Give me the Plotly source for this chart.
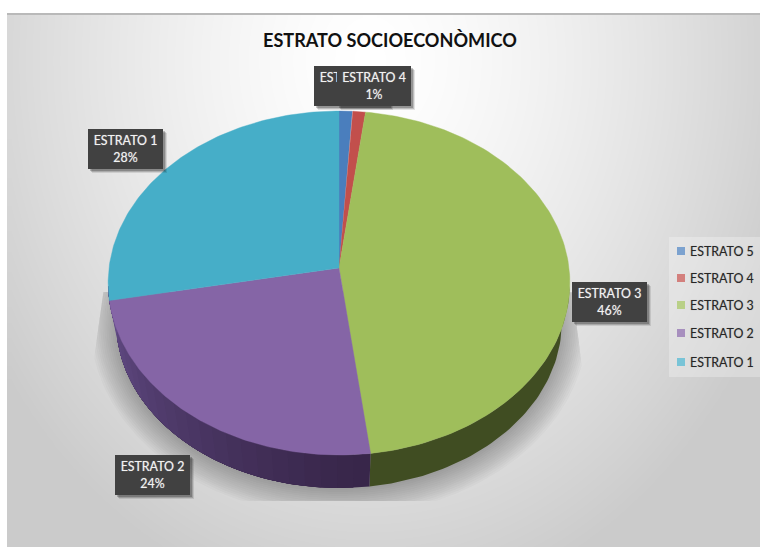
import numpy as np
import plotly.graph_objects as go

# Series, in clockwise order from twelve o'clock
categories = ["ESTRATO 5", "ESTRATO 4", "ESTRATO 3", "ESTRATO 2", "ESTRATO 1"]
percentages = [1, 1, 46, 24, 28]
face_colors = ["#4a7ebd", "#c24f4c", "#9fbe5b", "#8565a6", "#46aec8"]

# Label boxes: left and top edge of each callout, in page pixels
label_left = [314, 337, 572, 115, 88]
label_top = [66, 66, 282, 455, 129]
label_width = [75, 74, 75, 75, 75]
legend_rows = [251, 278, 305, 333, 362]

W, H = 760, 547
APEX_X, APEX_Y = 339.0, 268.0   # where the slices meet on the tilted disc
SCALE_X, SCALE_Y = 230.0, 170.7
PERSPECTIVE = 0.0872
RIM_CENTRE_Y = 283.0            # centre of the projected rim
RIM_SHRINK, RIM_DROP = 0.965, 39.0


def project(theta):
    """Map a clockwise angle on the disc to page coordinates, with perspective."""
    sx, sy = np.sin(theta), np.cos(theta)
    w = 1 + PERSPECTIVE * sy
    return APEX_X + SCALE_X * sx / w, APEX_Y - SCALE_Y * sy / w


def project_lower(theta):
    """Same rim seen at the underside of the pie."""
    x, y = project(theta)
    return APEX_X + RIM_SHRINK * (x - APEX_X), RIM_CENTRE_Y + RIM_DROP + RIM_SHRINK * (y - RIM_CENTRE_Y)


def mix(c0, c1, t):
    a = np.array([int(c0[i:i + 2], 16) for i in (1, 3, 5)])
    b = np.array([int(c1[i:i + 2], 16) for i in (1, 3, 5)])
    r, g, bl = (a + (b - a) * t).round().astype(int)
    return f"rgb({r},{g},{bl})"


fig = go.Figure()

# Panel backdrop: soft grey radial wash, brightest near the top centre.
# Cell centres sit half a cell inside the panel edge so the bricks end exactly on it.
gx = np.arange(11, W + 8, 8)
gy = np.arange(17, H + 8, 8)
XX, YY = np.meshgrid(gx, gy)
rr = np.sqrt(((XX - 370) / 400) ** 2 + ((YY - 60) / 500) ** 2)
wash = np.clip(255 - 45 * rr ** 1.4, 203, 255)
fig.add_trace(go.Heatmap(
    x=gx, y=gy, z=wash, zmin=0, zmax=255, zsmooth="best", showscale=False,
    colorscale=[[0, "rgb(0,0,0)"], [1, "rgb(255,255,255)"]], hoverinfo="skip",
))

# Soft cast shadow under the pie, built from stacked translucent rims;
# its flanks are trimmed along slanted lines and its foot along a flat one
all_angles = np.linspace(0, 2 * np.pi, 360)
for grow in np.linspace(0, 26, 14):
    lx, ly = project_lower(all_angles)
    sx = APEX_X + (lx - APEX_X) * (1 + grow / 225)
    sy = 322 + (ly - 322) * (1 + grow / 165) + 2
    keep_y = np.clip(sy, 292, 501)
    left_limit = np.maximum(103 - 0.135 * (keep_y - 293), 93)
    right_limit = np.minimum(576 + 0.13 * (keep_y - 320), 584)
    keep_x = np.clip(sx, left_limit, right_limit)
    fig.add_trace(go.Scatter(
        x=keep_x, y=keep_y, mode="lines", fill="toself", line=dict(width=0),
        fillcolor="rgba(70,70,70,0.03)", showlegend=False, hoverinfo="skip",
    ))

# Slice angle boundaries come straight from the percentages
edges = np.cumsum([0] + percentages) / sum(percentages) * 2 * np.pi


def add_side(t0, t1, color):
    ang = np.linspace(t0, t1, 60)
    tx, ty = project(ang)
    bx, by = project_lower(ang)
    fig.add_trace(go.Scatter(
        x=np.r_[tx, bx[::-1]], y=np.r_[ty, by[::-1]], mode="lines", fill="toself",
        fillcolor=color, line=dict(width=0), showlegend=False, hoverinfo="skip",
    ))


# Visible wall: the green slice in one tone, the purple slice shading towards the left.
# Each purple band runs to the far end and is painted over by the next, which avoids seams.
# The wall stops just past the point where the underside rim disappears behind the face.
add_side(np.radians(96), edges[3], "#404d22")
bands = np.linspace(edges[3], np.radians(264), 25)
for i in range(len(bands) - 1):
    add_side(bands[i], bands[-1], mix("#38264a", "#644d88", (i / (len(bands) - 2)) ** 1.2))

# Top faces
for name, color, t0, t1 in zip(categories, face_colors, edges[:-1], edges[1:]):
    ang = np.linspace(t0, t1, 120)
    x, y = project(ang)
    fig.add_trace(go.Scatter(
        x=np.r_[APEX_X, x, APEX_X], y=np.r_[APEX_Y, y, APEX_Y], mode="lines", fill="toself",
        fillcolor=color, line=dict(width=0.4, color=color), name=name, showlegend=False,
        hoverinfo="skip",
    ))

# Legend swatches
fig.add_trace(go.Scatter(
    x=[681] * len(categories), y=legend_rows, mode="markers",
    marker=dict(symbol="square", size=8, color=face_colors), showlegend=False, hoverinfo="skip",
))

shapes = [
    dict(type="line", xref="x", yref="y", x0=7, x1=W, y0=14, y1=14, line=dict(color="#b9b9b9", width=2)),
    dict(type="rect", xref="x", yref="y", x0=669, x1=W, y0=237, y1=377,
         fillcolor="rgba(255,255,255,0.28)", line=dict(width=0), layer="above"),
]
# Drop shadows behind the dark callouts
for left, top, width in zip(label_left, label_top, label_width):
    for off, alpha in ((4, 0.10), (3, 0.16), (2, 0.22)):
        shapes.append(dict(type="rect", xref="x", yref="y", x0=left + off, x1=left + width + off,
                           y0=top + off, y1=top + 40 + off, fillcolor=f"rgba(0,0,0,{alpha})",
                           line=dict(width=0), layer="above"))

annotations = [dict(
    x=390, y=40, xref="x", yref="y", text="<b>ESTRATO SOCIOECONÒMICO</b>", showarrow=False,
    font=dict(family="Lato", size=18.1, color="#111111"),
)]
# Callouts in drawing order, so ESTRATO 4 sits on top of ESTRATO 5
for name, pct, left, top, width in zip(categories, percentages, label_left, label_top, label_width):
    annotations.append(dict(
        x=left, y=top, xref="x", yref="y", xanchor="left", yanchor="top", width=width, height=40,
        text=f"{name}<br>{pct}%", showarrow=False, align="center", valign="middle",
        bgcolor="#414141", borderpad=0, borderwidth=0,
        font=dict(family="Lato", size=12.4, color="#f2f2f2", shadow="0 0 1px rgba(255,255,255,0.55)"),
    ))
for name, row in zip(categories, legend_rows):
    annotations.append(dict(
        x=687.5, y=row, xref="x", yref="y", xanchor="left", yanchor="middle", text=name,
        showarrow=False, font=dict(family="Lato", size=12.4, color="#262626", shadow="0 0 1px rgba(38,38,38,0.35)"),
    ))

fig.update_layout(
    width=W, height=H, margin=dict(l=0, r=0, t=0, b=0, pad=0), autosize=False,
    paper_bgcolor="white", plot_bgcolor="white", showlegend=False,
    xaxis=dict(range=[0, W], visible=False, fixedrange=True),
    yaxis=dict(range=[H, 0], visible=False, fixedrange=True),
    shapes=shapes, annotations=annotations,
)
fig.write_html("out.html", config=dict(displayModeBar=False))
